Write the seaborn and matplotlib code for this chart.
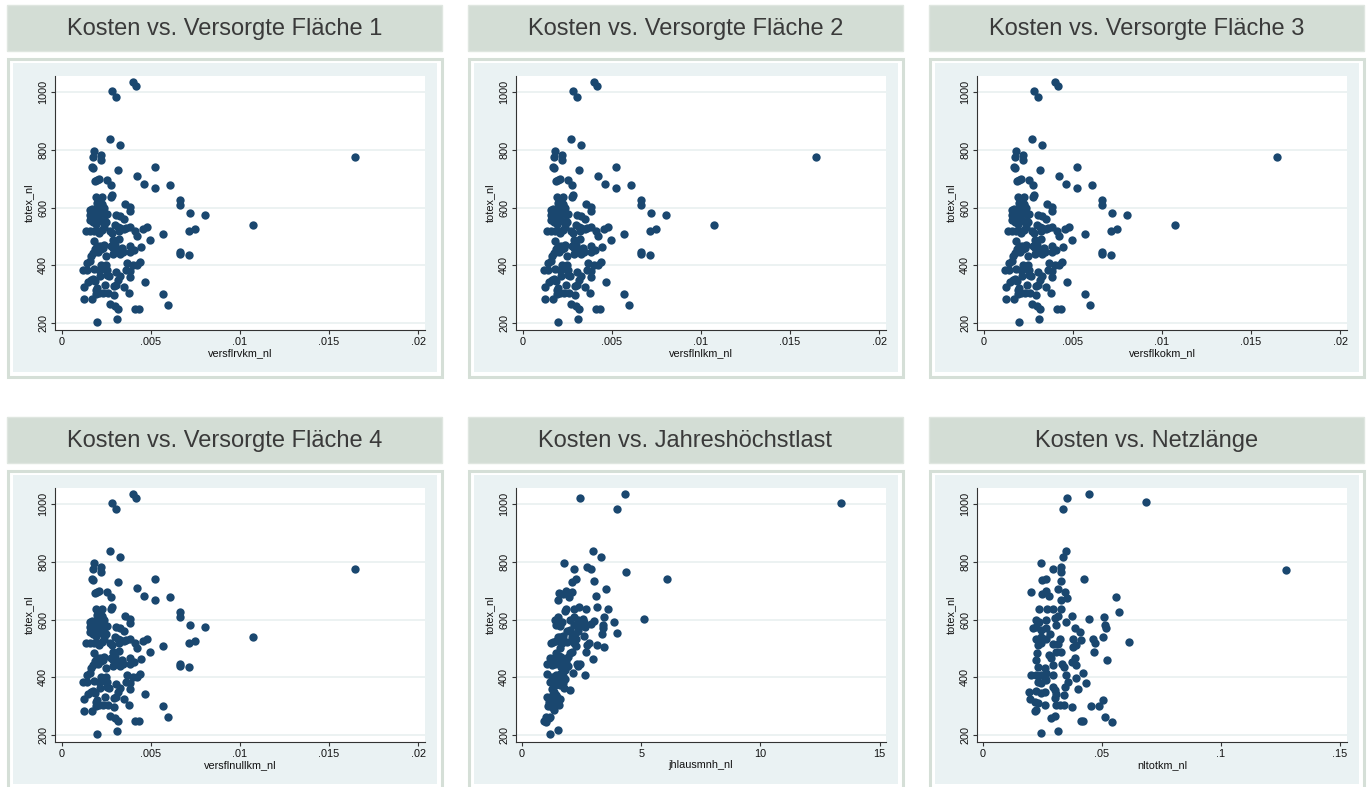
import matplotlib
matplotlib.use("Agg")
import matplotlib.pyplot as plt
from matplotlib.patches import Rectangle
import seaborn as sns
import pandas as pd

# ---------------- data ----------------
titles = ["Kosten vs. Versorgte Fläche 1", "Kosten vs. Versorgte Fläche 2",
          "Kosten vs. Versorgte Fläche 3", "Kosten vs. Versorgte Fläche 4",
          "Kosten vs. Jahreshöchstlast", "Kosten vs. Netzlänge"]
xlabels = ["versflrvkm_nl", "versflnlkm_nl", "versflkokm_nl", "versflnullkm_nl",
           "jhlausmnh_nl", "nltotkm_nl"]
ylabel = "totex_nl"

ytick_values = [200, 400, 600, 800, 1000]
ytick_labels = ["200", "400", "600", "800", "1000"]
versfl_ticks = [0, 0.005, 0.01, 0.015, 0.02]
versfl_ticklabels = ["0", ".005", ".01", ".015", ".02"]
jhl_ticks = [0, 5, 10, 15]
jhl_ticklabels = ["0", "5", "10", "15"]
netz_ticks = [0, 0.05, 0.1, 0.15]
netz_ticklabels = ["0", ".05", ".1", ".15"]

versfl_x = [.00401, .00416, .00285, .00302, .00269, .00330, .01647, .00181, .00174, .00218,
            .00218, .00172, .00175, .00315, .00526, .00422, .00252, .00185, .00200, .00209,
            .00463, .00606, .00274, .00522, .00190, .00228, .00280, .00274, .00662, .00662,
            .00358, .00386, .00382, .00718, .00804, .01073, .00304, .00326, .00351, .00750,
            .00713, .00571, .00476, .00457, .00410, .00423, .00382, .00349, .00317, .00323,
            .00494, .00321, .00289, .00274, .00289, .00312, .00336, .00341, .00386, .00408,
            .00382, .00446, .00662, .00662, .00715, .00364, .00401, .00425, .00438, .00360,
            .00382, .00382, .00302, .00326, .00317, .00304, .00295, .00349, .00465, .00379,
            .00295, .00571, .00599, .00271, .00299, .00317, .00410, .00435, .00313, .00196,
            .00125, .00170, .00125, .00149, .00162, .00121, .00144, .00144, .00159, .00183,
            .00192, .00209, .00233, .00215, .00209, .00218, .00237, .00248, .00252, .00252,
            .00263, .00261, .00244, .00248, .00233, .00215, .00188, .00200, .00183, .00164,
            .00177, .00136, .00159, .00181, .00201, .00211, .00224, .00239, .00248, .00230,
            .00271, .00282, .00159, .00174, .00192, .00159, .00183, .00205, .00168, .00190,
            .00215, .00233, .00159, .00196, .00224, .00207, .00211, .00243, .00252, .00183,
            .00205, .00222, .00240, .00290, .00300, .00330, .00345, .00190, .00200, .00175,
            .00185, .00300, .00330, .00360, .00205, .00225, .00240]
totex_versfl = [1037, 1022, 1006, 982, 837, 816, 775, 795, 776, 781,
                765, 742, 736, 731, 739, 708, 696, 691, 696, 699,
                681, 679, 677, 666, 636, 638, 644, 635, 627, 608,
                613, 602, 588, 580, 575, 539, 575, 572, 560, 527,
                519, 508, 531, 525, 517, 502, 534, 525, 534, 520,
                488, 490, 488, 467, 459, 451, 455, 459, 467, 453,
                444, 462, 447, 439, 436, 409, 401, 399, 412, 382,
                378, 358, 375, 363, 349, 332, 326, 324, 343, 303,
                297, 298, 262, 266, 257, 247, 247, 247, 214, 203,
                283, 284, 325, 343, 347, 382, 382, 407, 413, 386,
                314, 303, 303, 361, 382, 401, 388, 401, 382, 366,
                361, 303, 332, 430, 459, 465, 455, 467, 483, 430,
                442, 520, 520, 517, 519, 511, 522, 534, 550, 548,
                518, 511, 557, 548, 543, 575, 569, 569, 594, 592,
                598, 603, 592, 615, 613, 580, 557, 575, 578, 580,
                445, 455, 470, 440, 470, 440, 445, 300, 320, 352,
                345, 540, 528, 530, 585, 590, 598]

jhl_x = [2.45, 4.32, 3.99, 13.38, 2.98, 3.33, 1.78, 2.18, 2.71, 2.90,
         4.38, 6.08, 2.28, 2.10, 3.03, 3.54, 1.57, 1.72, 1.85, 2.11,
         1.99, 3.10, 1.50, 2.38, 2.67, 3.15, 3.62, 1.79, 1.85, 2.18,
         5.13, 3.43, 3.87, 4.00, 3.40, 3.40, 3.34, 3.45, 3.15, 2.98,
         3.03, 2.91, 2.56, 2.59, 2.64, 2.41, 2.34, 2.62, 2.71, 2.80,
         2.67, 2.64, 2.13, 2.00, 2.31, 2.45, 2.34, 1.37, 1.51, 1.44,
         1.61, 1.68, 1.20, 1.30, 1.44, 1.61, 1.72, 1.89, 2.03, 2.10,
         2.20, 2.24, 2.27, 2.17, 2.28, 2.03, 2.10, 1.92, 1.44, 1.54,
         1.64, 1.19, 1.33, 1.06, 1.26, 1.37, 1.58, 1.75, 1.82, 1.65,
         1.82, 1.44, 1.58, 1.72, 1.05, 1.19, 1.30, 1.44, 1.61, 1.75,
         1.26, 1.36, 1.05, 1.19, 1.47, 1.58, 1.40, 1.54, 1.08, 1.26,
         1.36, 1.44, 1.02, 1.12, 0.94, 1.02, 1.19, 1.17, 1.51, 1.72,
         1.82, 1.90, 2.00, 2.20, 2.35, 1.50, 1.70, 1.25, 1.35, 1.55,
         1.30, 1.15, 1.85, 1.95, 1.60]
totex_jhl = [1021, 1035, 982, 1006, 837, 816, 795, 775, 782, 775,
             765, 739, 741, 731, 735, 706, 692, 690, 698, 697,
             677, 682, 666, 644, 638, 642, 636, 628, 635, 635,
             601, 609, 590, 554, 580, 572, 549, 504, 513, 462,
             595, 584, 601, 590, 575, 575, 561, 543, 513, 519,
             488, 408, 413, 354, 447, 445, 438, 600, 609, 580,
             577, 593, 519, 523, 526, 540, 542, 523, 563, 540,
             580, 551, 534, 517, 509, 484, 488, 470, 482, 475,
             470, 465, 468, 447, 442, 447, 450, 453, 442, 434,
             424, 407, 410, 403, 412, 384, 387, 378, 372, 361,
             357, 349, 332, 326, 330, 323, 309, 303, 301, 297,
             286, 338, 262, 257, 249, 245, 262, 203, 215, 378,
             395, 560, 600, 610, 600, 540, 520, 400, 370, 395,
             340, 315, 455, 440, 500]

netz_x = [.0354, .0446, .0337, .0687, .1275, .0350, .0338, .0243, .0295, .0326,
          .0326, .0426, .0250, .0264, .0326, .0201, .0250, .0264, .0276, .0317,
          .0345, .0355, .0328, .0561, .0236, .0271, .0295, .0326, .0376, .0445,
          .0508, .0572, .0512, .0519, .0222, .0236, .0267, .0302, .0316, .0211,
          .0225, .0246, .0267, .0309, .0348, .0386, .0407, .0225, .0246, .0267,
          .0281, .0323, .0379, .0414, .0463, .0470, .0505, .0232, .0246, .0295,
          .0316, .0379, .0393, .0466, .0523, .0228, .0278, .0288, .0306, .0326,
          .0225, .0232, .0260, .0295, .0334, .0340, .0376, .0386, .0390, .0204,
          .0222, .0246, .0260, .0267, .0295, .0351, .0390, .0421, .0232, .0246,
          .0267, .0295, .0302, .0344, .0358, .0401, .0435, .0194, .0225, .0246,
          .0260, .0309, .0340, .0302, .0197, .0218, .0232, .0260, .0306, .0323,
          .0340, .0375, .0456, .0488, .0505, .0218, .0225, .0288, .0302, .0410,
          .0421, .0512, .0544, .0246, .0316, .0614]
totex_netz = [1022, 1036, 982, 1007, 771, 837, 816, 795, 775, 782,
              765, 740, 736, 740, 732, 695, 688, 699, 682, 706,
              696, 676, 667, 679, 636, 636, 638, 636, 612, 601,
              607, 627, 580, 571, 598, 592, 598, 604, 612, 570,
              575, 563, 569, 580, 590, 569, 557, 534, 540, 534,
              548, 534, 534, 528, 534, 517, 540, 511, 517, 514,
              514, 505, 511, 488, 461, 482, 476, 465, 488, 488,
              459, 436, 430, 442, 447, 436, 453, 465, 442, 407,
              409, 407, 401, 413, 407, 407, 398, 413, 384, 378,
              390, 367, 355, 367, 382, 358, 378, 349, 352, 344,
              347, 340, 338, 326, 324, 315, 309, 303, 303, 303,
              303, 297, 300, 300, 320, 282, 286, 257, 265, 248,
              248, 262, 245, 205, 213, 521]

# ---------------- style ----------------
sns.set_style("white")
plt.rcParams["font.family"] = ["Liberation Sans", "DejaVu Sans"]

W, H = 1368, 787
fig = plt.figure(figsize=(W / 100, H / 100), dpi=100)
fig.patch.set_facecolor("white")

MARK = "#1a476f"
TITLE_BG = "#d3ddd5"
FRAME = "#d5dfd7"
INNER = "#eaf2f3"
GRID = "#e9f0f0"


def rect(x0, y0, x1, y1, z, **kw):
    fig.patches.append(Rectangle((x0 / W, 1 - y1 / H), (x1 - x0) / W, (y1 - y0) / H,
                                 transform=fig.transFigure, figure=fig, zorder=z, **kw))


panels = [
    (0, 0, versfl_x, totex_versfl, (-0.000376, 0.02039), versfl_ticks, versfl_ticklabels),
    (1, 0, versfl_x, totex_versfl, (-0.000376, 0.02039), versfl_ticks, versfl_ticklabels),
    (2, 0, versfl_x, totex_versfl, (-0.000376, 0.02039), versfl_ticks, versfl_ticklabels),
    (0, 1, versfl_x, totex_versfl, (-0.000376, 0.02039), versfl_ticks, versfl_ticklabels),
    (1, 1, jhl_x, totex_jhl, (-0.25, 15.27), jhl_ticks, jhl_ticklabels),
    (2, 1, netz_x, totex_netz, (-0.0025, 0.1530), netz_ticks, netz_ticklabels),
]
col_dx = [0, 461, 922]
row_dy = [0, 412]

for i, (c, r, xs, ys, xlim, xt, xtl) in enumerate(panels):
    dx, dy = col_dx[c], row_dy[r]
    # title box
    rect(7 + dx, 5 + dy, 442 + dx, 51 + dy, -10, facecolor=TITLE_BG, edgecolor="#dfe6e0", lw=1)
    fig.text((224.5 + dx) / W, 1 - (28.5 + dy) / H, titles[i], ha="center", va="center",
             fontsize=17, color="#3a3a3a")
    # outer frame + inner background
    rect(8 + dx, 59 + dy, 442 + dx, 377 + dy, -10, facecolor="white", edgecolor=FRAME, lw=2.2)
    rect(13 + dx, 63 + dy, 437 + dx, 372 + dy, -9, facecolor=INNER, edgecolor="none")

    # axes
    x0, x1, y0, y1 = 55 + dx, 425 + dx, 76 + dy, 330 + dy
    ax = fig.add_axes([x0 / W, 1 - y1 / H, (x1 - x0) / W, (y1 - y0) / H])
    ax.set_zorder(1)
    ax.set_facecolor("white")
    df = pd.DataFrame({"x": xs, "y": ys})
    sns.scatterplot(data=df, x="x", y="y", ax=ax, color=MARK, s=36, linewidth=0, zorder=3)
    ax.set_xlim(*xlim)
    ax.set_ylim(174.7, 1056.6)
    ax.set_xticks(xt)
    ax.set_xticklabels(xtl)
    ax.set_yticks(ytick_values)
    ax.set_yticklabels(ytick_labels, rotation=90, va="center")
    ax.yaxis.grid(True, color=GRID, lw=1.2)
    ax.xaxis.grid(False)
    ax.set_axisbelow(True)
    for s in ["top", "right"]:
        ax.spines[s].set_visible(False)
    for s in ["left", "bottom"]:
        ax.spines[s].set_color("#333333")
        ax.spines[s].set_linewidth(0.8)
    ax.tick_params(axis="both", which="major", direction="out", length=3, width=0.8,
                   color="#333333", labelsize=7.8, labelcolor="#111111", pad=2,
                   left=True, bottom=True)
    ax.set_xlabel(xlabels[i], fontsize=7.8, color="#111111", labelpad=1)
    ax.set_ylabel(ylabel, fontsize=7.8, color="#111111", labelpad=3)

fig.savefig("out.png", dpi=100, facecolor="white")
